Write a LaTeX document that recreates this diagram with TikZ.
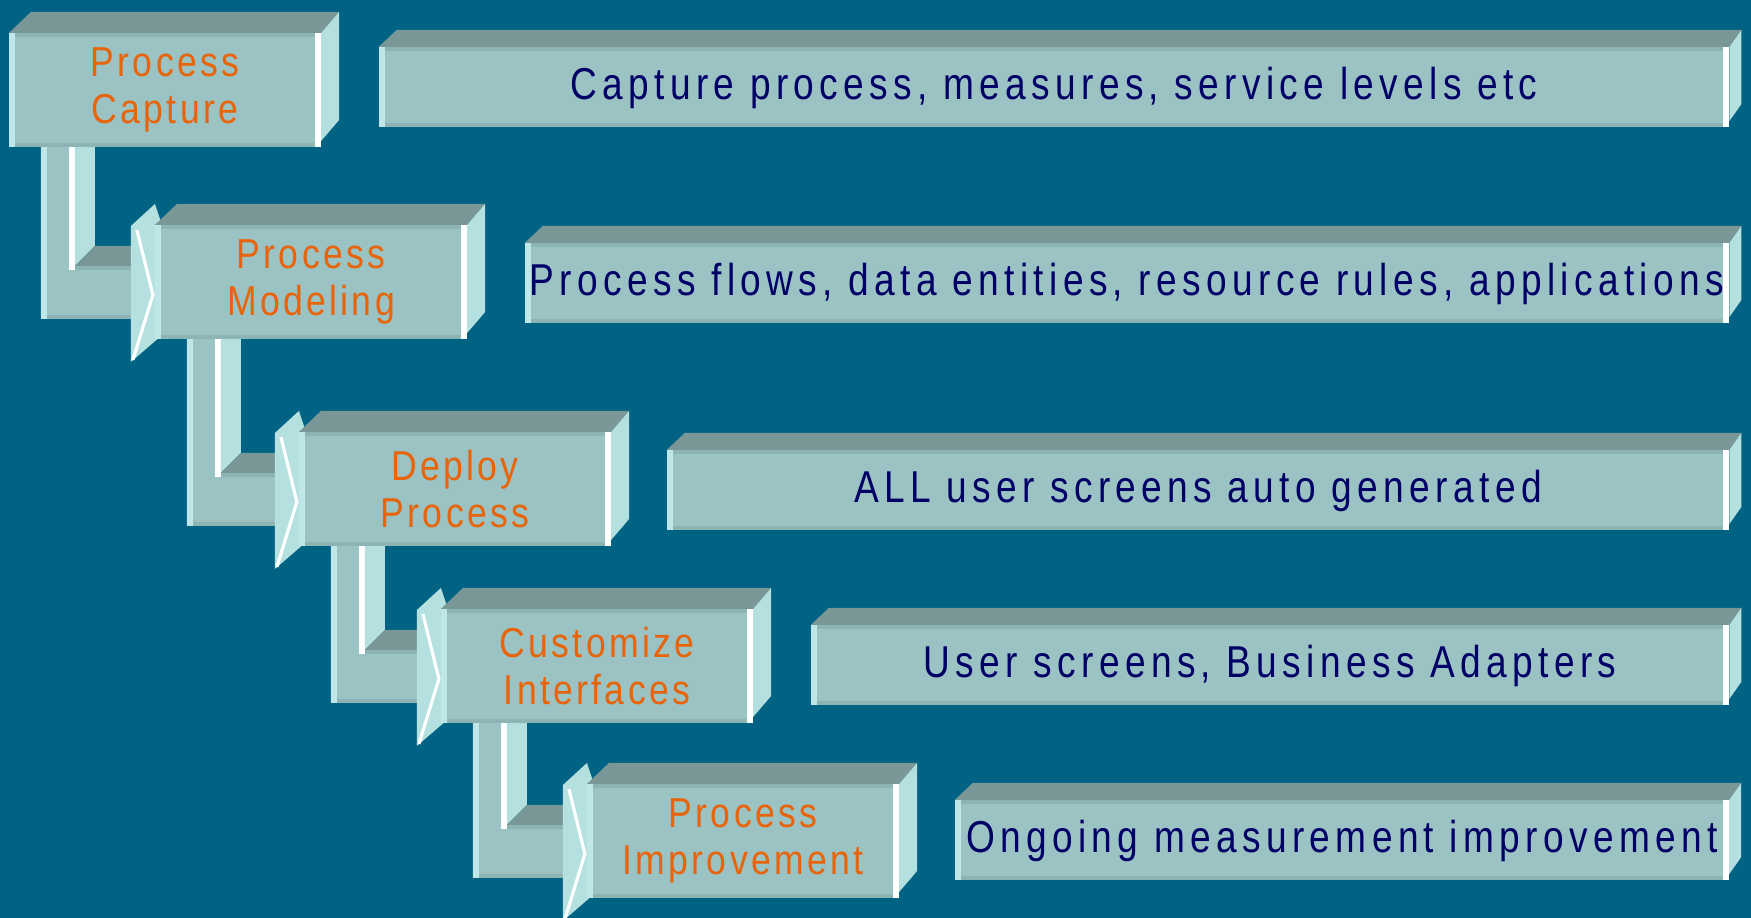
\documentclass[tikz,border=0pt]{standalone}
\usepackage{fontspec}
\usetikzlibrary{calc}
\newfontfamily\stagefont[FakeStretch=0.85,LetterSpace=8]{Liberation Sans}
\newfontfamily\notefont[FakeStretch=0.83,LetterSpace=12]{Liberation Sans}

\definecolor{bgblue}{HTML}{006384}
\definecolor{facecol}{HTML}{9CC3C3}
\definecolor{topcol}{HTML}{7A9797}
\definecolor{sidecol}{HTML}{B4E0E0}
\definecolor{edgecol}{HTML}{8DB4B4}
\definecolor{lightcol}{HTML}{BFE7E7}
\definecolor{stageorange}{HTML}{E8640A}
\definecolor{notenavy}{HTML}{000066}

\pgfdeclarelayer{back}
\pgfdeclarelayer{links}
\pgfsetlayers{back,links,main}

\tikzset{
  facebox/.style={fill=facecol, inner sep=0pt, outer sep=0pt, align=center},
  stagebox/.style={facebox, minimum width=3.12cm, minimum height=1.14cm, text=stageorange,
    font=\stagefont\fontsize{11.9}{13.4}\selectfont},
  notebox/.style={facebox, minimum height=0.8cm, text=notenavy, text height=0.69em, text depth=0pt,
    font=\notefont\fontsize{12.7}{15}\selectfont}
}

\begin{document}
\begin{tikzpicture}[x=0.01cm, y=-0.01cm]

\useasboundingbox (0,0) rectangle (1751,918);
\begin{pgfonlayer}{back}
\fill[bgblue] (0,0) rectangle (1751,918);
\end{pgfonlayer}

\node[stagebox] (capture) at (165,90) {Process\\Capture};
\node[stagebox] (modeling) at (311,282) {Process\\Modeling};
\node[stagebox] (deploy) at (455,489) {Deploy\\Process};
\node[stagebox] (customize) at (597,666) {Customize\\Interfaces};
\node[stagebox] (improve) at (743,841) {Process\\Improvement};

\node[notebox, minimum width=13.5cm] (capnote) at (1054,87) {Capture process, measures, service levels etc};
\node[notebox, minimum width=12.04cm] (modnote) at (1127,283) {Process flows, data entities, resource rules, applications};
\node[notebox, minimum width=10.62cm] (depnote) at (1198,490) {ALL user screens auto generated};
\node[notebox, minimum width=9.18cm] (cusnote) at (1270,665) {User screens, Business Adapters};
\node[notebox, minimum width=7.74cm] (impnote) at (1342,840) {Ongoing measurement improvement};

\foreach \n/\dl/\dr/\dy in {capture/22/18/21, modeling/22/18/21, deploy/22/18/21, customize/22/18/21, improve/22/18/21,
    capnote/18/12/17, modnote/18/12/17, depnote/18/12/17, cusnote/18/12/17, impnote/18/12/17}{
  \fill[topcol] (\n.north west) -- ++(\dl,-\dy) -- ($(\n.north east)+(\dr,-\dy)$) -- (\n.north east) -- cycle;
  \fill[sidecol] (\n.north east) -- ++(\dr,-\dy) -- ($(\n.south east)+(\dr,-\dy-6)$) -- ($(\n.south east)+(0,-6)$) -- cycle;
  \fill[edgecol] (\n.north west) rectangle ($(\n.north east)+(0,4)$);
  \fill[edgecol] (\n.south west) rectangle ($(\n.south east)+(0,-4)$);
  \fill[lightcol] (\n.north west) rectangle ($(\n.south west)+(6,0)$);
  \fill[white] (\n.north east) rectangle ($(\n.south east)+(-6,0)$);
}

\begin{pgfonlayer}{links}
\foreach \a/\b in {capture/modeling, modeling/deploy, deploy/customize, customize/improve}{
  \coordinate (s) at (\a.south west);
  \coordinate (t) at (\b.north west);
  \coordinate (k) at (s |- t);
  \fill[facecol] ($(s)+(32,0)$) -- ($(s)+(60,0)$) -- ($(k)+(60,45)$) -- ($(t)+(-24,45)$)
    -- ($(t)+(-24,94)$) -- ($(k)+(32,94)$) -- cycle;
  \fill[lightcol] ($(s)+(32,0)$) rectangle ($(k)+(38,94)$);
  \fill[edgecol] ($(k)+(38,90)$) rectangle ($(t)+(-24,94)$);
  \fill[white] ($(s)+(60,0)$) rectangle ($(k)+(66,45)$);
  \fill[sidecol] ($(s)+(66,0)$) -- ($(s)+(86,0)$) -- ($(k)+(86,21)$) -- ($(k)+(66,41)$) -- cycle;
  \fill[topcol] ($(k)+(66,41)$) -- ($(k)+(86,21)$) -- ($(t)+(-24,21)$) -- ($(t)+(-24,41)$) -- cycle;
  \fill[edgecol] ($(k)+(66,41)$) rectangle ($(t)+(-24,45)$);
  \fill[sidecol] ($(t)+(-24,1)$) -- ($(t)+(0,-21)$) -- ($(t)+(5,-6)$) -- ($(t)+(5,112)$)
    -- ($(t)+(-24,137)$) -- cycle;
  \draw[white, line width=0.9pt] ($(t)+(-18,5)$) -- ($(t)+(-2,70)$) -- ($(t)+(-22,135)$);
}
\end{pgfonlayer}

\end{tikzpicture}
\end{document}
